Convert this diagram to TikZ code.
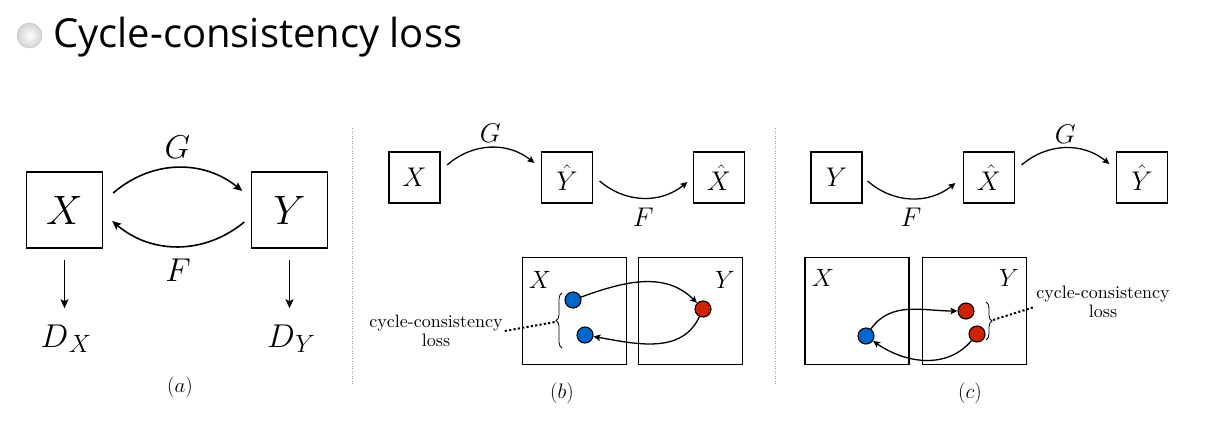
\RequirePackage{fix-cm}
\documentclass[tikz,border=0pt]{standalone}
\usepackage{fontspec}
\usepackage{tikz}
\usetikzlibrary{positioning, arrows.meta, decorations.pathreplacing, calc}
\newfontfamily\titlefont{Open Sans}
\newfontfamily\lossfont{lmroman10-regular}[Extension=.otf]
\definecolor{DotBlue}{RGB}{0,102,204}
\definecolor{DotRed}{RGB}{204,34,0}
\newcommand{\dsub}[1]{$D$\kern0.5pt\raisebox{-5pt}{\fontsize{25}{25}\selectfont$#1$}}

\begin{document}
\begin{tikzpicture}[
  x=1pt, y=1pt,
  bigbox/.style={rectangle, draw, line width=1.4pt, minimum size=76pt, inner sep=0pt, font=\fontsize{41}{41}\selectfont},
  smallbox/.style={rectangle, draw, line width=1.2pt, minimum size=51pt, inner sep=0pt, font=\fontsize{27}{27}\selectfont},
  domainbox/.style={rectangle, draw, line width=1.2pt, minimum width=104pt, minimum height=107pt, inner sep=0pt},
  dot/.style={circle, draw, line width=1.1pt, minimum size=16pt, inner sep=0pt},
  bigarrow/.style={-{Stealth[length=9pt, width=8pt, inset=2pt]}, line width=1.6pt},
  arrow/.style={-{Stealth[length=7pt, width=6.5pt, inset=1.5pt]}, line width=1.3pt},
  lossline/.style={line width=2pt, dash pattern=on 2.2pt off 2.2pt},
  bracket/.style={decorate, decoration={brace, amplitude=6pt}, line width=0.8pt},
  divider/.style={gray!70, line width=0.8pt, dash pattern=on 1pt off 1.5pt},
  biglabel/.style={inner sep=0pt, font=\fontsize{33}{33}\selectfont},
  txt/.style={inner sep=0pt, font=\fontsize{27}{27}\selectfont},
  corner/.style={inner sep=0pt, font=\fontsize{25}{25}\selectfont},
  caption/.style={inner sep=0pt, font=\fontsize{21}{21}\selectfont},
  losstxt/.style={align=center, inner sep=2pt, font=\lossfont\fontsize{18}{19}\selectfont}
]

\fill[white] (0,0) rectangle (1206,-431);
\useasboundingbox (0,0) rectangle (1206,-431);

% Title
\node[circle, minimum size=25pt, inner sep=0pt, draw=gray!45, line width=0.5pt, inner color=white, outer color=gray!35] (bullet) at (29.5,-35.5) {};
\node[anchor=base west, inner sep=0pt, font=\titlefont\fontsize{40}{40}\selectfont] (title) at (53,-47) {Cycle-consistency loss};

% Panel (a)
\node[bigbox] (ax) at (64.5,-210) {$X$};
\node[bigbox] (ay) at (289.5,-210) {$Y$};
\node[biglabel, anchor=base] (dx) at (66,-347) {\dsub{X}};
\node[biglabel, anchor=base] (dy) at (291,-347) {\dsub{Y}};
\draw[bigarrow] ([xshift=10pt, yshift=17pt]ax.east) to[bend left=40] node[biglabel, above=8pt] {$G$} ([xshift=-8.5pt, yshift=19pt]ay.west);
\draw[bigarrow] ([xshift=-6.5pt, yshift=-12pt]ay.west) to[bend left=40] node[biglabel, below=12pt] {$F$} ([xshift=9pt, yshift=-11pt]ax.east);
\draw[bigarrow, shorten <=11pt, shorten >=16pt] (ax.south) -- (ax.south |- dx.north);
\draw[bigarrow, shorten <=11pt, shorten >=16pt] (ay.south) -- (ay.south |- dy.north);
\node[caption] (capa) at (180,-387) {$(a)$};

\draw[divider] (352,-128) -- (352,-385);

% Panel (b)
\node[smallbox] (bx) at (414.5,-177.5) {$X$};
\node[smallbox] (byh) at (567,-177.5) {$\hat{Y}$};
\node[smallbox] (bxh) at (719,-177.5) {$\hat{X}$};
\draw[arrow] ([xshift=6.5pt, yshift=12.5pt]bx.east) to[bend left=40] node[txt, above=4pt] {$G$} ([xshift=-6.5pt, yshift=14.5pt]byh.west);
\draw[arrow] ([xshift=6.5pt, yshift=-3.5pt]byh.east) to[bend right=40] node[txt, below=9pt] {$F$} ([xshift=-5.5pt, yshift=-4.5pt]bxh.west);

\node[domainbox] (bdx) at (574.5,-311) {};
\node[domainbox] (bdy) at (690.5,-311) {};
\node[corner] (bxl) at (540,-280) {$X$};
\node[corner] (byl) at (725,-280) {$Y$};
\node[dot, fill=DotBlue] (bb1) at (573,-300) {};
\node[dot, fill=DotBlue] (bb2) at (585,-335) {};
\node[dot, fill=DotRed] (br) at (703,-309) {};
\draw[arrow] (bb1) to[out=20, in=135] (br);
\draw[arrow] (br) to[out=-115, in=-10] (bb2);
\draw[bracket] (562,-348) -- (562,-293);
\coordinate (btip) at (555,-322);
\node[losstxt] (bloss) at (436,-331) {cycle-consistency\\loss};
\draw[lossline] (bloss.east) -- (btip);
\node[caption] (capb) at (562,-393) {$(b)$};

\draw[divider] (775,-128) -- (775,-385);

% Panel (c)
\node[smallbox] (cy) at (836.5,-177.5) {$Y$};
\node[smallbox] (cxh) at (989,-177.5) {$\hat{X}$};
\node[smallbox] (cyh) at (1142,-177.5) {$\hat{Y}$};
\draw[arrow] ([xshift=5pt, yshift=-3.5pt]cy.east) to[bend right=40] node[txt, below=9pt] {$F$} ([xshift=-7.5pt, yshift=-5.5pt]cxh.west);
\draw[arrow] ([xshift=6.5pt, yshift=12.5pt]cxh.east) to[bend left=40] node[txt, above=4pt] {$G$} ([xshift=-6.5pt, yshift=13.5pt]cyh.west);

\node[domainbox] (cdx) at (857,-311) {};
\node[domainbox] (cdy) at (974.5,-311) {};
\node[corner] (cxl) at (823,-278) {$X$};
\node[corner] (cyl) at (1009,-278) {$Y$};
\node[dot, fill=DotBlue] (cb) at (866,-336) {};
\node[dot, fill=DotRed] (cr1) at (966,-311) {};
\node[dot, fill=DotRed] (cr2) at (977,-334) {};
\draw[arrow] (cb) to[out=55, in=180] (cr1);
\draw[arrow] (cr2) to[out=-130, in=-35] (cb);
\draw[bracket] (986,-302) -- (986,-340);
\coordinate (ctip) at (993,-320);
\node[losstxt] (closs) at (1103,-302) {cycle-consistency\\loss};
\draw[lossline] (ctip) -- ([yshift=-5pt]closs.west);
\node[caption] (capc) at (970,-393) {$(c)$};

\end{tikzpicture}
\end{document}
